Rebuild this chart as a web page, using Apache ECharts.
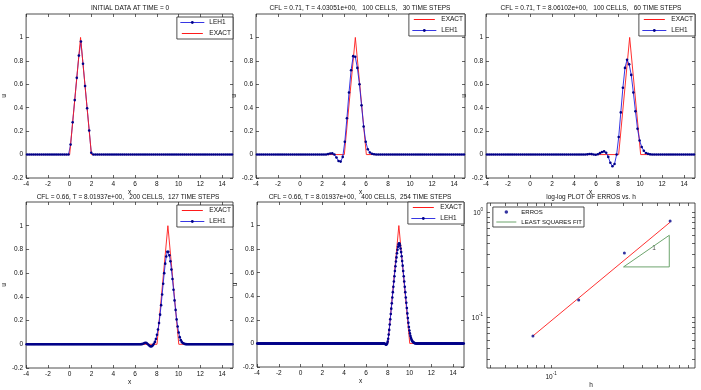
<!DOCTYPE html>
<html>
<head>
<meta charset="utf-8">
<script src="https://cdn.jsdelivr.net/npm/echarts@6/dist/echarts.min.js"></script>
<style>
  html, body { margin: 0; background: #fff; }
  #chart { width: 701px; height: 390px; }
</style>
</head>
<body>
<div id="chart"></div>
<script>
// domain of the advection runs
const X_MIN = -4, X_MAX = 15;
const xTicks = [-4, -2, 0, 2, 4, 6, 8, 10, 12, 14];
const uTicks = [-0.2, 0, 0.2, 0.4, 0.6, 0.8, 1];

const titles = [
  'INITIAL DATA AT TIME = 0',
  'CFL = 0.71, T = 4.03051e+00,   100 CELLS,   30 TIME STEPS',
  'CFL = 0.71, T = 8.06102e+00,   100 CELLS,   60 TIME STEPS',
  'CFL = 0.66, T = 8.01937e+00,   200 CELLS,  127 TIME STEPS',
  'CFL = 0.66, T = 8.01937e+00,   400 CELLS,  254 TIME STEPS',
  'log-log PLOT OF ERROS vs. h'
];

// exact (hat) solution
const exactP1 = [[-4, 0], [0, 0], [1, 1], [2, 0], [15, 0]];
const exactP2 = [[-4, 0], [4.03, 0], [5.03, 1], [6.03, 0], [15, 0]];
const exactP3 = [[-4, 0], [8.06, 0], [9.06, 1], [10.06, 0], [15, 0]];
const exactP45 = [[-4, 0], [8.02, 0], [9.02, 1], [10.02, 0], [15, 0]];

// LEH1 cell values (index of first listed cell, values; other cells are 0)
const lehP1Start = 21;
const lehP1 = [0.085, 0.275, 0.465, 0.655, 0.845, 0.965, 0.775, 0.585, 0.395, 0.205, 0.015];
const lehP2Start = 33;
const lehP2 = [0.001, 0.004, 0.009, 0.01, 0, -0.025, -0.055, -0.06, -0.02, 0.11, 0.31, 0.53, 0.72,
  0.84, 0.835, 0.74, 0.6, 0.42, 0.24, 0.11, 0.045, 0.018, 0.007, 0.003, 0.001];
const lehP3Start = 48;
const lehP3 = [0.002, 0.005, 0.004, 0, -0.002, 0.003, 0.012, 0.022, 0.027, 0.016, -0.02, -0.07, -0.1,
  -0.08, 0, 0.15, 0.36, 0.57, 0.74, 0.81, 0.77, 0.68, 0.53, 0.37, 0.22, 0.12, 0.065, 0.032, 0.014,
  0.006, 0.002];
const lehP4Start = 110;
const lehP4 = [0, 0.001, 0.003, 0.007, 0.011, 0.013, 0.01, 0.003, -0.006, -0.014, -0.018, -0.016,
  -0.008, 0.004, 0.02, 0.045, 0.08, 0.125, 0.18, 0.25, 0.33, 0.42, 0.51, 0.6, 0.68, 0.74, 0.78, 0.78,
  0.75, 0.7, 0.63, 0.55, 0.46, 0.37, 0.29, 0.21, 0.15, 0.1, 0.06, 0.035, 0.02, 0.011, 0.006, 0.003, 0.001];
const lehP5Start = 242;
const lehP5 = [0, 0, 0.001, 0, -0.002, -0.005, -0.008, -0.01, -0.008, 0, 0.015, 0.04, 0.075, 0.115,
  0.16, 0.205, 0.25, 0.295, 0.34, 0.39, 0.435, 0.48, 0.525, 0.57, 0.615, 0.655, 0.695, 0.73, 0.765,
  0.795, 0.82, 0.84, 0.85, 0.845, 0.83, 0.805, 0.775, 0.74, 0.7, 0.66, 0.615, 0.57, 0.525, 0.48, 0.435,
  0.39, 0.345, 0.3, 0.255, 0.215, 0.175, 0.14, 0.11, 0.085, 0.064, 0.047, 0.034, 0.024, 0.017, 0.012,
  0.008, 0.005, 0.003, 0.002, 0.001];

// error study
const hVals = [0.076, 0.152, 0.304, 0.608];
const errVals = [0.066, 0.145, 0.407, 0.82];
const fitH = [0.076, 0.608];
const fitErr = [0.066, 0.8];
const slopeTriH = [0.3, 0.6, 0.6, 0.3];
const slopeTriE = [0.3, 0.3, 0.6, 0.3];
const logXTicks = [0.04, 0.05, 0.06, 0.07, 0.08, 0.09, 0.1, 0.2, 0.3, 0.4, 0.5, 0.6, 0.7, 0.8];
const logYTicks = [0.04, 0.05, 0.06, 0.07, 0.08, 0.09, 0.1, 0.2, 0.3, 0.4, 0.5, 0.6, 0.7, 0.8, 0.9, 1];

// layout: [left, top, width, height]
const boxes = [
  [25, 14, 208, 164],
  [256, 14, 209, 164],
  [486, 14, 209, 164],
  [23, 202, 210, 166],
  [257, 202, 207, 165],
  [487, 203, 208, 165]
];

const FONT = 'Liberation Sans, Arial, sans-serif';
const RED = '#ff1a1a';
const BLUE = '#2020e0';
const NAVY = '#000088';
const GREEN = '#5c9a5c';
const W = 701;

function cells(n, first, vals) {
  const h = (X_MAX - X_MIN) / n;
  const out = [];
  for (let i = 0; i < n; i++) {
    const j = i - first;
    out.push([X_MIN + h * (i + 0.5), j >= 0 && j < vals.length ? vals[j] : 0]);
  }
  return out;
}

const txt = { fontSize: 6.5, color: '#111', fontFamily: FONT };
const tick = vals => ({ show: true, inside: true, length: 3, customValues: vals, lineStyle: { color: '#222', width: 0.7 } });
const noLine = { show: false, onZero: false };

let grid = [], xAxis = [], yAxis = [], series = [], legend = [];

boxes.forEach(b => {
  grid.push({ left: b[0], top: b[1], width: b[2], height: b[3], show: true, borderColor: '#222', borderWidth: 0.8, backgroundColor: '#fff' });
});

function linAxes(k) {
  xAxis.push({ gridIndex: k, type: 'value', min: X_MIN, max: X_MAX, name: 'x', nameLocation: 'middle', nameGap: 10,
    nameTextStyle: txt, axisLine: noLine, splitLine: { show: false }, axisTick: tick(xTicks),
    axisLabel: Object.assign({ customValues: xTicks, margin: 3 }, txt) });
  xAxis.push({ gridIndex: k, type: 'value', position: 'top', min: X_MIN, max: X_MAX, axisLine: noLine,
    splitLine: { show: false }, axisTick: tick(xTicks), axisLabel: { show: false } });
  yAxis.push({ gridIndex: k, type: 'value', min: -0.2, max: 1.2, name: 'u', nameLocation: 'middle', nameGap: 11,
    nameTextStyle: txt, axisLine: noLine, splitLine: { show: false }, axisTick: tick(uTicks),
    axisLabel: Object.assign({ customValues: uTicks, margin: 3 }, txt) });
  yAxis.push({ gridIndex: k, type: 'value', position: 'right', min: -0.2, max: 1.2, axisLine: noLine,
    splitLine: { show: false }, axisTick: tick(uTicks), axisLabel: { show: false } });
}

function exactSeries(k, data) {
  return { type: 'line', name: 'EXACT', xAxisIndex: 2 * k, yAxisIndex: 2 * k, data: data,
    symbol: 'none', lineStyle: { color: RED, width: 0.9 }, itemStyle: { color: RED }, silent: true };
}
function lehSeries(k, data) {
  return { type: 'line', name: 'LEH1', xAxisIndex: 2 * k, yAxisIndex: 2 * k, data: data, showAllSymbol: true,
    symbol: 'circle', symbolSize: 2.6, lineStyle: { color: BLUE, width: 0.9 }, itemStyle: { color: NAVY },
    silent: true };
}
// legend entries: a solid red bar icon for EXACT, see-through symbol for the fit line
const redBar = 'path://M0,0L0.01,0L0,0.01Z M0,1.3H24V2.7H0Z M0,4L0.01,4L0,3.99Z';
const hidden = { color: 'rgba(0,0,0,0)', borderWidth: 0 };
const legendLook = {
  'EXACT': { icon: redBar, itemStyle: { color: RED, borderWidth: 0, opacity: 1 } },
  'LEH1': {},
  'LEAST SQUARES FIT': { itemStyle: hidden },
  'ERROS': {}
};
function legendAt(names, right, top) {
  return { data: names.map(n => Object.assign({ name: n }, legendLook[n])),
    orient: 'vertical', right: W - right, top: top, itemWidth: 24, itemHeight: 3.5, itemGap: 4,
    padding: [2, 2, 2, 3], borderColor: '#222', borderWidth: 0.8, backgroundColor: '#fff', selectedMode: false,
    inactiveColor: RED, lineStyle: { width: 0.9 }, textStyle: txt };
}

for (let k = 0; k < 5; k++) linAxes(k);

series.push(lehSeries(0, cells(100, lehP1Start, lehP1)), exactSeries(0, exactP1));
series.push(exactSeries(1, exactP2), lehSeries(1, cells(100, lehP2Start, lehP2)));
series.push(exactSeries(2, exactP3), lehSeries(2, cells(100, lehP3Start, lehP3)));
series.push(exactSeries(3, exactP45), lehSeries(3, cells(200, lehP4Start, lehP4)));
series.push(exactSeries(4, exactP45), lehSeries(4, cells(400, lehP5Start, lehP5)));

legend.push(legendAt(['LEH1', 'EXACT'], 233, 17));
legend.push(legendAt(['EXACT', 'LEH1'], 465, 14));
legend.push(legendAt(['EXACT', 'LEH1'], 695, 14));
legend.push(legendAt(['EXACT', 'LEH1'], 233, 205));
legend.push(legendAt(['EXACT', 'LEH1'], 464, 202));

// log-log panel
const pow10 = v => '{b|10}{s|' + Math.round(Math.log10(v)) + '}';
const supRich = { b: { fontSize: 6.5, lineHeight: 10, verticalAlign: 'bottom', color: '#111', fontFamily: FONT },
  s: { fontSize: 4.5, lineHeight: 10, verticalAlign: 'top', color: '#111', fontFamily: FONT } };
xAxis.push({ gridIndex: 5, type: 'log', min: 0.0379, max: 0.886, name: 'h', nameLocation: 'middle', nameGap: 10,
  nameTextStyle: txt, axisLine: noLine, splitLine: { show: false }, minorTick: { show: false },
  axisTick: tick(logXTicks), axisLabel: { customValues: [0.1], formatter: pow10, rich: supRich, margin: 3 } });
xAxis.push({ gridIndex: 5, type: 'log', position: 'top', min: 0.0379, max: 0.886, axisLine: noLine,
  splitLine: { show: false }, axisTick: tick(logXTicks), axisLabel: { show: false } });
yAxis.push({ gridIndex: 5, type: 'log', min: 0.0327, max: 1.218, axisLine: noLine, splitLine: { show: false },
  axisTick: tick(logYTicks), axisLabel: { customValues: [0.1, 1], formatter: pow10, rich: supRich, margin: 4 } });
yAxis.push({ gridIndex: 5, type: 'log', position: 'right', min: 0.0327, max: 1.218, axisLine: noLine,
  splitLine: { show: false }, axisTick: tick(logYTicks), axisLabel: { show: false } });

series.push({ type: 'scatter', name: 'ERROS', xAxisIndex: 10, yAxisIndex: 10, symbol: 'circle', symbolSize: 3,
  itemStyle: { color: NAVY }, data: hVals.map((h, i) => [h, errVals[i]]), silent: true, z: 5 });
series.push({ type: 'line', name: 'LEAST SQUARES FIT', xAxisIndex: 10, yAxisIndex: 10, symbol: 'none',
  lineStyle: { color: GREEN, width: 0.9 }, itemStyle: { color: GREEN },
  data: slopeTriH.map((h, i) => [h, slopeTriE[i]]), silent: true });
series.push({ type: 'line', name: 'fit', xAxisIndex: 10, yAxisIndex: 10, symbol: 'none',
  lineStyle: { color: RED, width: 0.9 }, data: fitH.map((h, i) => [h, fitErr[i]]), silent: true });
series.push({ type: 'scatter', name: 'slope', xAxisIndex: 10, yAxisIndex: 10, symbolSize: 0, silent: true,
  label: { show: true, position: 'inside', formatter: '1', fontSize: 6.5, color: '#111', fontFamily: FONT },
  data: [[0.476, 0.454]] });
legend.push(Object.assign(legendAt(['ERROS', 'LEAST SQUARES FIT'], 584, 207),
  { itemWidth: 20, inactiveColor: '#ccc', textStyle: Object.assign({}, txt, { fontSize: 6 }) }));

const titleCenters = [[130, 5], [360, 5], [591, 5], [128, 193.5], [360, 193.5], [591, 193.5]];
const title = titles.map((t, k) => ({ text: t, left: titleCenters[k][0], top: titleCenters[k][1], textAlign: 'center',
  padding: 0, textStyle: { fontSize: 6.5, fontWeight: 'normal', color: '#111', fontFamily: FONT } }));

const chart = echarts.init(document.getElementById('chart'), null, { renderer: 'canvas' });
chart.setOption({
  animation: false,
  backgroundColor: '#fff',
  title: title,
  legend: legend,
  grid: grid,
  xAxis: xAxis,
  yAxis: yAxis,
  series: series
});
</script>
</body>
</html>
